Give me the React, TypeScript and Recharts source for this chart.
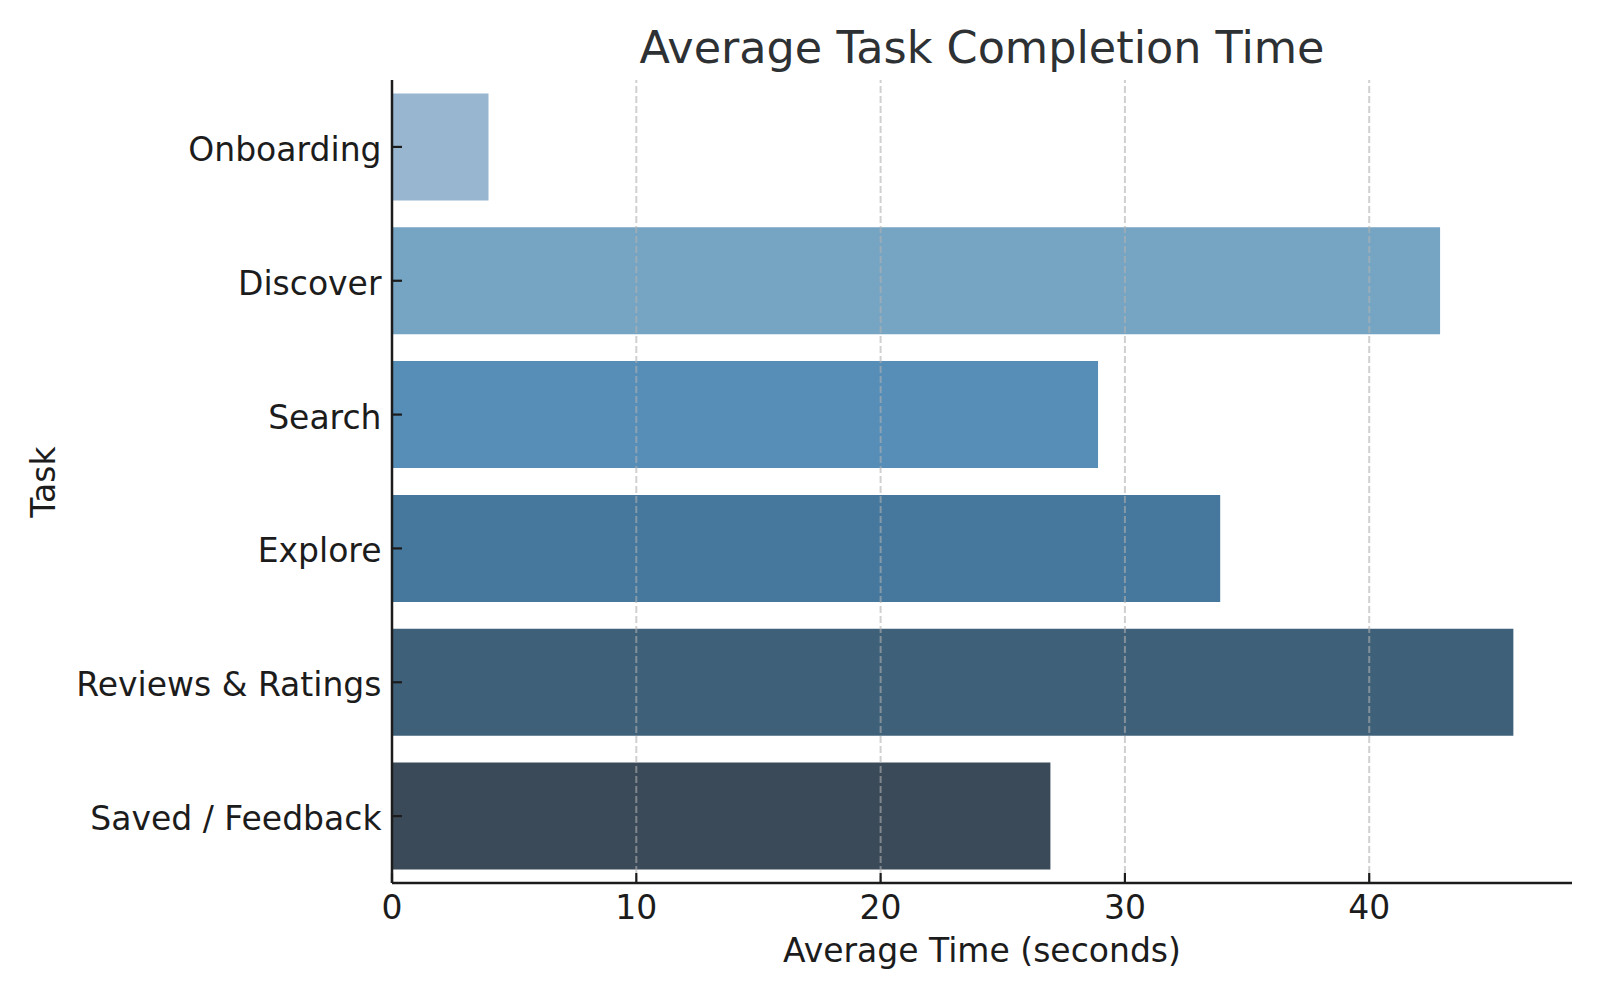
import React from "react";
import { BarChart, Bar, XAxis, YAxis, Cell, ReferenceLine } from "recharts";

const tasks = ["Onboarding", "Discover", "Search", "Explore", "Reviews & Ratings", "Saved / Feedback"];
const avgTimes = [3.95, 42.9, 28.9, 33.9, 45.9, 26.95];
const barColors = ["#98b6cf", "#76a5c4", "#578eb7", "#45789c", "#3f6079", "#3a4a58"];
const xTicks = [0, 10, 20, 30, 40];
const gridValues = [10, 20, 30, 40];

const data = tasks.map((t, i) => ({ task: t, time: avgTimes[i] }));

const FONT = "DejaVu Sans, sans-serif";
const TEXT = "#1c1c1c";

const XTick = (props: any) => {
  const { x, y, payload } = props;
  return (
    <g>
      <line x1={x} x2={x} y1={y} y2={y - 10} stroke={TEXT} strokeWidth={2.2} />
      <text x={x} y={y + 36} textAnchor="middle" fontFamily={FONT} fontSize={33} fill={TEXT}>
        {payload.value}
      </text>
    </g>
  );
};

const YTick = (props: any) => {
  const { x, y, payload } = props;
  return (
    <g>
      <line x1={x} x2={x + 10} y1={y} y2={y} stroke={TEXT} strokeWidth={2.2} />
      <text x={x - 10.5} y={y + 14} textAnchor="end" fontFamily={FONT} fontSize={33} fill={TEXT}>
        {payload.value}
      </text>
    </g>
  );
};

export default function App() {
  return (
    <div style={{ position: "absolute", left: 0, top: 0, width: 1600, height: 1000, background: "#fff" }}>
      <BarChart
        width={1600}
        height={1000}
        data={data}
        layout="vertical"
        margin={{ top: 80, right: 28, bottom: 0, left: 0 }}
        barCategoryGap="10%"
      >
        <XAxis
          type="number"
          dataKey="time"
          domain={[0, 48.3]}
          ticks={xTicks}
          allowDataOverflow
          height={117}
          tickSize={0}
          tickMargin={0}
          tick={<XTick />}
          axisLine={{ stroke: TEXT, strokeWidth: 2.5 }}
        />
        <YAxis
          type="category"
          dataKey="task"
          width={392}
          tickSize={0}
          tickMargin={0}
          tick={<YTick />}
          axisLine={{ stroke: TEXT, strokeWidth: 2.5 }}
        />
        <Bar dataKey="time" isAnimationActive={false}>
          {data.map((d, i) => (
            <Cell key={d.task} fill={barColors[i]} />
          ))}
        </Bar>
        {gridValues.map((v) => (
          <ReferenceLine
            key={v}
            x={v}
            stroke="#b0b0b0"
            strokeOpacity={0.6}
            strokeWidth={2}
            strokeDasharray="7 3"
          />
        ))}
      </BarChart>
      <svg
        width={1600}
        height={1000}
        style={{ position: "absolute", left: 0, top: 0, pointerEvents: "none" }}
      >
        <text x={982} y={63} textAnchor="middle" fontFamily={FONT} fontSize={44.5} fill="#2e3134">
          Average Task Completion Time
        </text>
        <text x={982} y={962} textAnchor="middle" fontFamily={FONT} fontSize={33} fill={TEXT}>
          Average Time (seconds)
        </text>
        <text
          x={55}
          y={482}
          textAnchor="middle"
          fontFamily={FONT}
          fontSize={33}
          fill={TEXT}
          transform="rotate(-90, 55, 482)"
        >
          Task
        </text>
      </svg>
    </div>
  );
}
